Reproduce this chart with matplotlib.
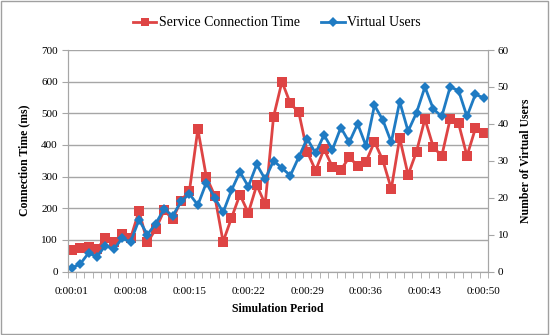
import matplotlib
matplotlib.use("Agg")
import matplotlib.pyplot as plt
from matplotlib.patches import Rectangle
import numpy as np

# simulation period labels, one point per second 0:00:01 .. 0:00:50
periods = ["0:00:%02d" % s for s in range(1, 51)]

# Service Connection Time (ms), left axis
conn_time = [68, 73, 78, 71, 105, 94, 118, 105, 191, 92,
             134, 194, 165, 224, 255, 450, 300, 240, 94, 169,
             243, 185, 273, 213, 489, 600, 531, 503, 379, 319,
             387, 331, 321, 361, 334, 347, 410, 351, 261, 422,
             305, 379, 482, 393, 365, 482, 468, 365, 452, 439]

# Virtual Users, right axis
users = [1, 2, 5, 4, 7, 6, 9, 8, 14, 10,
         13, 17, 15, 19, 21, 18, 24, 20, 16, 22,
         27, 23, 29, 25, 30, 28, 26, 31, 36, 32,
         37, 33, 39, 35, 40, 34, 45, 41, 35, 46,
         38, 43, 50, 44, 42, 50, 49, 42, 48, 47]

RED = "#DE4444"
BLUE = "#1F7BC3"
GRID = "#A6A6A6"

plt.rcParams['font.family'] = ['Liberation Serif', 'DejaVu Serif']

fig = plt.figure(figsize=(5.5, 3.35), dpi=100)
ax = fig.add_axes([67.5 / 550, 1 - 271.5 / 335, (488 - 67.5) / 550, (271.5 - 50) / 335])
ax2 = ax.twinx()

x = np.arange(len(periods))
l1, = ax.plot(x, conn_time, color=RED, lw=2.0, marker="s", ms=7,
              markeredgewidth=0, label="Service Connection Time")
l2, = ax2.plot(x, users, color=BLUE, lw=2.0, marker="D", ms=5.5,
               markeredgewidth=0, label="Virtual Users")

ax.set_xlim(-0.5, len(periods) - 0.5)
ax.set_ylim(0, 700)
ax2.set_ylim(0, 60)
ax.set_yticks(range(0, 701, 100))
ax2.set_yticks(range(0, 61, 10))

ax.set_xticks(x[::7])
ax.set_xticklabels(periods[::7])
ax.set_xticks(np.arange(-0.5, len(periods), 1), minor=True)
ax.tick_params(axis="x", which="major", length=0, pad=11, labelsize=8)
ax.tick_params(axis="x", which="minor", length=4, color=GRID, direction="out")
ax.tick_params(axis="y", length=4, color=GRID, labelsize=8, pad=3)
ax2.tick_params(axis="y", length=4, color=GRID, labelsize=8, pad=3)

ax.grid(axis="y", color=GRID, lw=1)
ax.set_axisbelow(True)
for a in (ax, ax2):
    a.spines["top"].set_visible(False)
    for s in ("left", "right", "bottom"):
        a.spines[s].set_color(GRID)

ax.set_xlabel("Simulation Period", fontsize=8.5, fontweight="bold", labelpad=5)
ax.set_ylabel("Connection Time (ms)", fontsize=8.5, fontweight="bold", labelpad=8)
ax2.set_ylabel("Number of Virtual Users", fontsize=8.5, fontweight="bold", labelpad=8)

fig.legend(handles=[l1, l2], loc="center", bbox_to_anchor=(277 / 550, 1 - 23 / 335),
           ncol=2, frameon=False, fontsize=10, handlelength=1.7, columnspacing=1.5,
           handletextpad=0.2, markerscale=0.85)

fig.patches.append(Rectangle((0.002, 0.003), 0.995, 0.993, transform=fig.transFigure,
                             fill=False, ec="#A0A0A0", lw=1))

fig.savefig("out.png", dpi=100)
